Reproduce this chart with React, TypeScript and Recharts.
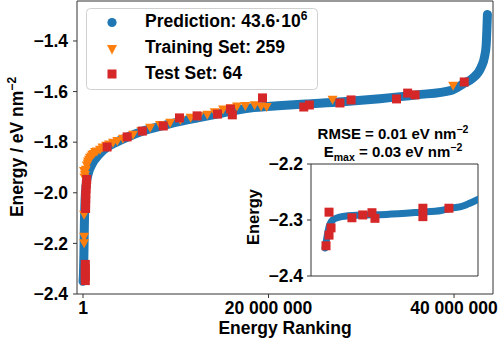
import React from 'react';
import { ComposedChart, Line, Scatter, XAxis, YAxis, Legend, ReferenceArea } from 'recharts';

const FONT = '"Liberation Sans", Arial, Helvetica, sans-serif';
const BLUE = '#1f77b4';
const ORANGE = '#ff7f0e';
const RED = '#d62728';
const AXIS = '#333333';

// ---- main plot: prediction curve (rank in millions, energy eV nm^-2)
const predRankM = [0, 0.05, 0.1, 0.15, 0.22, 0.35, 0.6, 1.0, 1.7, 2.6, 3.6, 4.8, 6.4, 8.6, 10.5, 12.5, 15.0, 18.0, 21.0, 24.0, 28.0, 32.0, 36.0, 39.7, 41.1, 42.0, 42.9, 43.3, 43.46, 43.6];
const predEnergy = [-2.35, -2.32, -2.24, -2.12, -2.03, -1.965, -1.92, -1.885, -1.85, -1.82, -1.8, -1.78, -1.757, -1.735, -1.718, -1.703, -1.685, -1.665, -1.656, -1.649, -1.64, -1.628, -1.613, -1.595, -1.567, -1.547, -1.505, -1.46, -1.418, -1.295];

// ---- training set
const trainRankM = [0.12, 0.12, 0.12, 0.1, 0.15, 0.2, 0.25, 0.3, 0.4, 0.5, 0.55, 0.65, 0.75, 0.9, 1.0, 1.15, 1.3, 1.5, 1.84, 2.1, 2.5, 2.8, 3.24, 3.7, 4.3, 5.4, 6.3, 7.24, 8.3, 9.4, 10.5, 11.6, 12.5, 13.4, 14.2, 15.1, 15.9, 16.6, 17.5, 18.5, 19.2, 19.8, 26.9, 39.9];
const trainEnergy = [-2.088, -2.175, -2.2, -1.915, -1.94, -1.93, -1.915, -1.91, -1.893, -1.885, -1.877, -1.87, -1.862, -1.857, -1.85, -1.847, -1.84, -1.838, -1.831, -1.822, -1.815, -1.81, -1.803, -1.796, -1.787, -1.771, -1.757, -1.744, -1.733, -1.724, -1.713, -1.704, -1.698, -1.692, -1.682, -1.672, -1.667, -1.66, -1.658, -1.655, -1.66, -1.662, -1.633, -1.578];

// ---- test set
const testRankM = [0.25, 0.25, 0.25, 0.25, 0.25, 0.28, 0.28, 0.3, 0.3, 0.33, 0.36, 0.4, 2.6, 4.76, 6.4, 8.65, 10.4, 12.3, 14.5, 15.9, 16.1, 19.35, 23.8, 24.4, 27.7, 28.9, 33.8, 35.0, 35.8, 41.1];
const testEnergy = [-2.347, -2.331, -2.315, -2.299, -2.283, -2.062, -2.043, -2.024, -2.005, -1.986, -1.966, -1.947, -1.819, -1.779, -1.756, -1.736, -1.704, -1.696, -1.689, -1.669, -1.692, -1.625, -1.661, -1.653, -1.645, -1.633, -1.629, -1.606, -1.613, -1.562];

// ---- inset (lowest-energy region)
const insetPredX = [8.4, 9.6, 11, 13, 17, 25, 45, 65, 78, 84, 91, 95, 100];
const insetPredE = [-2.35, -2.33, -2.31, -2.3, -2.295, -2.292, -2.29, -2.286, -2.283, -2.279, -2.275, -2.27, -2.263];
const insetTestX = [9, 10.8, 10.8, 12, 24.5, 31, 36.5, 38.3, 67, 67, 82.6];
const insetTestE = [-2.346, -2.286, -2.327, -2.314, -2.296, -2.291, -2.287, -2.297, -2.279, -2.294, -2.279];

// ---- ticks / labels
const xTicks = [1, 20000000, 40000000];
const xTickLabels = ['1', '20 000 000', '40 000 000'];
const yTicks = [-2.4, -2.2, -2.0, -1.8, -1.6, -1.4];
const insetYTicks = [-2.4, -2.3, -2.2];
const legendLabels = ['Prediction: 43.6\u00b710', 'Training Set: 259', 'Test Set: 64'];
const legendSup = ['6', '', ''];

const X_DOMAIN: [number, number] = [-647000, 44200000];
const Y_DOMAIN: [number, number] = [-2.4, -1.242];
const INSET_X: [number, number] = [0, 100];
const INSET_Y: [number, number] = [-2.4, -2.2];

const toRank = (m: number) => Math.max(1, Math.round(m * 1e6));
const predData = predRankM.map((m, i) => ({ x: toRank(m), y: predEnergy[i] }));
const trainData = trainRankM.map((m, i) => ({ x: toRank(m), y: trainEnergy[i] }));
const testData = testRankM.map((m, i) => ({ x: toRank(m), y: testEnergy[i] }));
const insetPred = insetPredX.map((x, i) => ({ x, y: insetPredE[i] }));
const insetTest = insetTestX.map((x, i) => ({ x, y: insetTestE[i] }));

const fmtY = (v: number) => (v < 0 ? '\u2212' : '') + Math.abs(v).toFixed(1);
const fmtX = (v: number) => {
  const i = xTicks.indexOf(v);
  return i >= 0 ? xTickLabels[i] : String(v);
};

const tickStyle = { fill: '#000', fontSize: 17.5, fontWeight: 'bold', fontFamily: FONT };

const Square = (p: any) => <rect x={p.cx - 4.5} y={p.cy - 4.5} width={9} height={9} fill={RED} />;
const TriDown = (p: any) => (
  <path d={`M${p.cx - 5},${p.cy - 4.2} L${p.cx + 5},${p.cy - 4.2} L${p.cx},${p.cy + 4.8} Z`} fill={ORANGE} />
);

function LegendBox() {
  const ts = { fontSize: 17.5, fontWeight: 'bold' as const, fontFamily: FONT, fill: '#000' };
  const base = [19.3, 45, 70.7];
  return (
    <svg width={232} height={82} style={{ display: 'block' }}>
      <rect x={0.5} y={0.5} width={231} height={81} rx={4} fill="rgba(255,255,255,0.85)" stroke="#d0d0d0" />
      <circle cx={26} cy={14.5} r={4.6} fill={BLUE} />
      <path d="M21,37 L31,37 L26,46.5 Z" fill={ORANGE} />
      <rect x={21.5} y={61.5} width={9} height={9} fill={RED} />
      {legendLabels.map((l, i) => (
        <text key={i} x={59} y={base[i]} {...ts}>
          {l}
          {legendSup[i] ? (
            <tspan dy={-7} fontSize={12}>
              {legendSup[i]}
            </tspan>
          ) : null}
        </text>
      ))}
    </svg>
  );
}

export default function App() {
  const lab = { fontWeight: 'bold' as const, fontFamily: FONT, fill: '#000' };
  return (
    <div style={{ position: 'absolute', left: 0, top: 0, width: 499, height: 349, background: '#fff' }}>
      <ComposedChart width={499} height={349} margin={{ top: 1, right: 6, bottom: 0, left: 8 }}>
        <XAxis
          type="number"
          dataKey="x"
          domain={X_DOMAIN}
          allowDataOverflow
          ticks={xTicks}
          tickFormatter={fmtX}
          tick={tickStyle}
          tickSize={4}
          tickMargin={4}
          height={55}
          axisLine={false}
          tickLine={{ stroke: AXIS }}
          interval={0}
        />
        <YAxis
          type="number"
          dataKey="y"
          domain={Y_DOMAIN}
          allowDataOverflow
          ticks={yTicks}
          tickFormatter={fmtY}
          tick={tickStyle}
          tickSize={4}
          tickMargin={5}
          width={69}
          axisLine={false}
          tickLine={{ stroke: AXIS }}
          interval={0}
        />
        <ReferenceArea x1={X_DOMAIN[0]} x2={X_DOMAIN[1]} y1={Y_DOMAIN[0]} y2={Y_DOMAIN[1]} fill="none" stroke={AXIS} strokeWidth={1} ifOverflow="visible" />
        <Line data={predData} dataKey="y" type="monotone" stroke={BLUE} strokeWidth={9} strokeLinecap="round" dot={false} isAnimationActive={false} legendType="circle" />
        <Scatter data={trainData} dataKey="y" shape={TriDown} isAnimationActive={false} />
        <Scatter data={testData} dataKey="y" shape={Square} isAnimationActive={false} />
        <Legend
          layout="vertical"
          align="center"
          verticalAlign="middle"
          wrapperStyle={{ left: 86, top: 8, width: 232, height: 82 }}
          content={() => <LegendBox />}
        />
      </ComposedChart>

      <div style={{ position: 'absolute', left: 230, top: 150, width: 260, height: 140 }}>
        <ComposedChart width={260} height={140} margin={{ top: 14, right: 12, bottom: 14, left: 0 }}>
          <XAxis type="number" dataKey="x" domain={INSET_X} allowDataOverflow hide />
          <YAxis
            type="number"
            dataKey="y"
            domain={INSET_Y}
            allowDataOverflow
            ticks={insetYTicks}
            tickFormatter={fmtY}
            tick={tickStyle}
            tickSize={4}
            tickMargin={4}
            width={81}
            axisLine={false}
            tickLine={{ stroke: AXIS }}
            interval={0}
          />
          <ReferenceArea x1={INSET_X[0]} x2={INSET_X[1]} y1={INSET_Y[0]} y2={INSET_Y[1]} fill="#fff" fillOpacity={0} stroke={AXIS} strokeWidth={1} ifOverflow="visible" />
          <Line data={insetPred} dataKey="y" type="monotone" stroke={BLUE} strokeWidth={7} strokeLinecap="round" dot={false} isAnimationActive={false} />
          <Scatter data={insetTest} dataKey="y" shape={Square} isAnimationActive={false} />
        </ComposedChart>
      </div>

      <svg width={499} height={349} style={{ position: 'absolute', left: 0, top: 0, pointerEvents: 'none' }}>
        <text x={285} y={334} textAnchor="middle" fontSize={17.5} {...lab}>
          Energy Ranking
        </text>
        <text transform="translate(22.5,147) rotate(-90)" textAnchor="middle" fontSize={17.5} {...lab}>
          Energy / eV nm
          <tspan dy={-7} fontSize={12}>
            {'\u22122'}
          </tspan>
        </text>
        <text transform="translate(259,217) rotate(-90)" textAnchor="middle" fontSize={16.5} {...lab}>
          Energy
        </text>
        <text x={393} y={139} textAnchor="middle" fontSize={15} {...lab}>
          RMSE = 0.01 eV nm
          <tspan dy={-6} fontSize={10.5}>
            {'\u22122'}
          </tspan>
        </text>
        <text x={393} y={157} textAnchor="middle" fontSize={15} {...lab}>
          E
          <tspan dy={4} fontSize={10.5}>
            max
          </tspan>
          <tspan dy={-4}> = 0.03 eV nm</tspan>
          <tspan dy={-6} fontSize={10.5}>
            {'\u22122'}
          </tspan>
        </text>
      </svg>
    </div>
  );
}
